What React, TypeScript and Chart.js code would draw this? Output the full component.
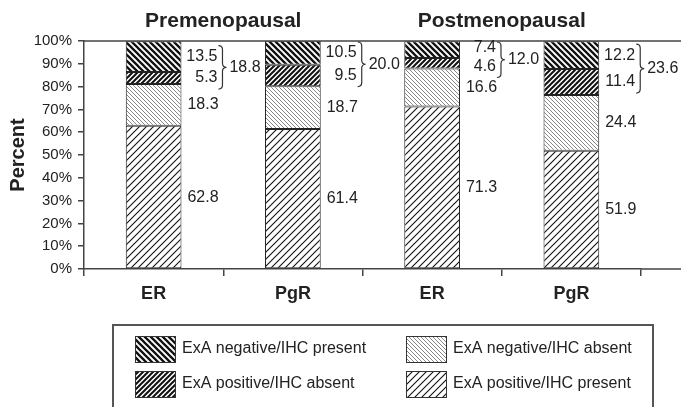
import React, { useEffect, useRef } from "react";
import { Chart, registerables } from "chart.js";

Chart.register(...registerables);

// ---------- data ----------
const categories = ["ER", "PgR", "ER", "PgR"];
const groupTitles = ["Premenopausal", "Postmenopausal"];
const seriesNames = [
  "ExA positive/IHC present",
  "ExA negative/IHC absent",
  "ExA positive/IHC absent",
  "ExA negative/IHC present",
];
const posPresent = [62.8, 61.4, 71.3, 51.9];
const negAbsent = [18.3, 18.7, 16.6, 24.4];
const posAbsent = [5.3, 9.5, 4.6, 11.4];
const negPresent = [13.5, 10.5, 7.4, 12.2];
const discordantTotals = [18.8, 20.0, 12.0, 23.6];
const yTickValues = [0, 10, 20, 30, 40, 50, 60, 70, 80, 90, 100];

const FONT = "'Liberation Sans', Arial, Helvetica, sans-serif";
const INK = "#222";
const AXIS = "#444";

function makePattern(
  ctx: CanvasRenderingContext2D,
  dir: "f" | "b",
  size: number,
  lineWidth: number,
  color: string
): CanvasPattern | string {
  const c = document.createElement("canvas");
  c.width = size;
  c.height = size;
  const g = c.getContext("2d")!;
  g.fillStyle = "#fff";
  g.fillRect(0, 0, size, size);
  g.strokeStyle = color;
  g.lineWidth = lineWidth;
  g.beginPath();
  if (dir === "f") {
    g.moveTo(-1, size + 1);
    g.lineTo(size + 1, -1);
    g.moveTo(-size / 2 - 1, size / 2 + 1);
    g.lineTo(size / 2 + 1, -size / 2 - 1);
    g.moveTo(size / 2 - 1, size * 1.5 + 1);
    g.lineTo(size * 1.5 + 1, size / 2 - 1);
  } else {
    g.moveTo(-1, -1);
    g.lineTo(size + 1, size + 1);
    g.moveTo(-size / 2 - 1, size / 2 - 1);
    g.lineTo(size / 2 + 1, size * 1.5 + 1);
    g.moveTo(size / 2 - 1, -size / 2 - 1);
    g.lineTo(size * 1.5 + 1, size / 2 + 1);
  }
  g.stroke();
  return ctx.createPattern(c, "repeat") || color;
}

function drawBrace(
  ctx: CanvasRenderingContext2D,
  x0: number,
  yTop: number,
  yBot: number,
  w: number
) {
  const ym = (yTop + yBot) / 2;
  const xm = x0 + w / 2;
  const r = 4;
  ctx.beginPath();
  ctx.moveTo(x0, yTop);
  ctx.quadraticCurveTo(xm, yTop, xm, yTop + r);
  ctx.lineTo(xm, ym - r);
  ctx.quadraticCurveTo(xm, ym, x0 + w, ym);
  ctx.quadraticCurveTo(xm, ym, xm, ym + r);
  ctx.lineTo(xm, yBot - r);
  ctx.quadraticCurveTo(xm, yBot, x0, yBot);
  ctx.stroke();
}

export default function App() {
  const ref = useRef<HTMLCanvasElement | null>(null);

  useEffect(() => {
    document.body.style.margin = "0";
    const canvas = ref.current!;
    const ctx = canvas.getContext("2d")!;

    const patterns = [
      makePattern(ctx, "f", 7, 1.1, "#111"),
      makePattern(ctx, "b", 4, 1, "#888"),
      makePattern(ctx, "f", 5, 2, "#111"),
      makePattern(ctx, "b", 6, 2.3, "#111"),
    ];
    const seriesValues = [posPresent, negAbsent, posAbsent, negPresent];

    const extras = {
      id: "extras",
      afterDraw(chart: any) {
        const c: CanvasRenderingContext2D = chart.ctx;
        const ca = chart.chartArea;
        const x = chart.scales.x;
        const y = chart.scales.y;
        c.save();

        // extended frame lines
        c.strokeStyle = AXIS;
        c.lineWidth = 1.5;
        c.beginPath();
        c.moveTo(ca.left, ca.top);
        c.lineTo(chart.width, ca.top);
        c.moveTo(ca.right, ca.bottom);
        c.lineTo(chart.width, ca.bottom);
        c.stroke();

        // group titles
        c.fillStyle = INK;
        c.font = `bold 21px ${FONT}`;
        c.textAlign = "center";
        c.textBaseline = "middle";
        groupTitles.forEach((t, gi) => {
          const cx = (x.getPixelForValue(gi * 2) + x.getPixelForValue(gi * 2 + 1)) / 2;
          c.fillText(t, cx, 21);
        });

        // value labels
        c.font = `16px ${FONT}`;
        c.strokeStyle = "#333";
        c.lineWidth = 1.2;
        categories.forEach((_, i) => {
          const el: any = chart.getDatasetMeta(0).data[i];
          const right = el.x + el.width / 2;
          let base = 0;
          const mids: number[] = [];
          seriesValues.forEach((vals) => {
            mids.push(y.getPixelForValue(base + vals[i] / 2));
            base += vals[i];
          });
          c.textAlign = "left";
          c.fillText(posPresent[i].toFixed(1), right + 6, mids[0]);
          c.fillText(negAbsent[i].toFixed(1), right + 6, mids[1]);
          let yHi = mids[3];
          let yLo = mids[2];
          const minSep = 20;
          if (yLo - yHi < minSep) {
            const m = (yLo + yHi) / 2;
            yHi = m - minSep / 2;
            yLo = m + minSep / 2;
          }
          yHi = Math.max(yHi, ca.top + 7);
          c.textAlign = "right";
          c.fillText(negPresent[i].toFixed(1), right + 36, yHi);
          c.fillText(posAbsent[i].toFixed(1), right + 36, yLo);
          const bTop = Math.max(yHi - 11, ca.top + 1);
          drawBrace(c, right + 37, bTop, yLo + 11, 8);
          c.textAlign = "left";
          c.fillText(discordantTotals[i].toFixed(1), right + 48, (bTop + yLo + 11) / 2);
        });

        // legend box
        c.strokeStyle = "#555";
        c.lineWidth = 2;
        c.strokeRect(113, 325, 540, 120);
        const legendOrder = [3, 1, 2, 0];
        const cols = [135, 406];
        const rows = [336, 371];
        c.font = `16px ${FONT}`;
        c.textAlign = "left";
        c.textBaseline = "middle";
        legendOrder.forEach((si, k) => {
          const lx = cols[k % 2];
          const ly = rows[Math.floor(k / 2)];
          c.fillStyle = patterns[si] as any;
          c.fillRect(lx, ly, 40, 26);
          c.strokeStyle = "#333";
          c.lineWidth = 1;
          c.strokeRect(lx + 0.5, ly + 0.5, 40, 26);
          c.fillStyle = INK;
          c.fillText(seriesNames[si], lx + 47, ly + 13);
        });

        c.restore();
      },
    };

    const chart = new Chart(canvas, {
      type: "bar",
      data: {
        labels: categories,
        datasets: seriesValues.map((vals, si) => ({
          label: seriesNames[si],
          data: vals,
          backgroundColor: patterns[si] as any,
          borderColor: "#222",
          borderWidth: 1,
          borderSkipped: false,
          barPercentage: 0.4,
          categoryPercentage: 1,
        })),
      },
      options: {
        responsive: false,
        animation: false,
        devicePixelRatio: 1,
        layout: { padding: { top: 41, right: 40, bottom: 0, left: 0 } },
        plugins: {
          legend: { display: false },
          tooltip: { enabled: false },
          title: { display: false },
        },
        scales: {
          x: {
            stacked: true,
            offset: true,
            grid: {
              display: true,
              offset: true,
              drawOnChartArea: false,
              drawTicks: true,
              tickLength: 7,
              color: AXIS,
              lineWidth: 1.5,
            },
            border: { display: true, color: AXIS, width: 1.5 },
            ticks: {
              color: INK,
              padding: 7,
              font: { family: FONT, size: 18, weight: "bold" },
            },
            afterFit: (s: any) => {
              s.height = 138;
            },
          },
          y: {
            stacked: true,
            min: 0,
            max: 100,
            afterBuildTicks: (s: any) => {
              s.ticks = yTickValues.map((v) => ({ value: v }));
            },
            grid: {
              display: true,
              drawOnChartArea: false,
              drawTicks: true,
              tickLength: 6,
              color: AXIS,
              lineWidth: 1.5,
            },
            border: { display: true, color: AXIS, width: 1.5 },
            ticks: {
              color: INK,
              padding: 6,
              font: { family: FONT, size: 15 },
              callback: (v: any) => `${v}%`,
            },
            title: {
              display: true,
              text: "Percent",
              color: INK,
              font: { family: FONT, size: 20, weight: "bold" },
              padding: { top: 6, bottom: 0 },
            },
            afterFit: (s: any) => {
              s.width = 84;
            },
          },
        },
      },
      plugins: [extras],
    });

    return () => chart.destroy();
  }, []);

  return (
    <div style={{ width: 681, height: 407, overflow: "hidden", background: "#fff" }}>
      <canvas ref={ref} width={681} height={407} style={{ display: "block" }} />
    </div>
  );
}
